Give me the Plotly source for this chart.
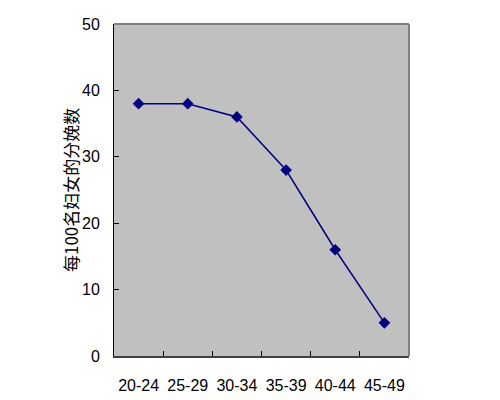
import plotly.graph_objs as go

# age groups and births per 100 women
age_groups = ["20-24", "25-29", "30-34", "35-39", "40-44", "45-49"]
births = [38, 38, 36, 28, 16, 5]
y_ticks = [0, 10, 20, 30, 40, 50]
y_label = "每100名妇女的分娩数"

narrow = "Liberation Sans Narrow, Arial Narrow, Liberation Sans, sans-serif"

fig = go.Figure()
fig.add_trace(go.Scatter(
    x=age_groups,
    y=births,
    mode="lines+markers",
    line=dict(color="#000080", width=1.5),
    marker=dict(symbol="diamond", size=9, color="#000080"),
    showlegend=False,
))

# page body adds an 8px offset, so margins are shifted to compensate
fig.update_layout(
    width=500,
    height=400,
    margin=dict(l=106, r=99, t=16, b=52, autoexpand=False),
    paper_bgcolor="white",
    plot_bgcolor="#C0C0C0",
    font=dict(family=narrow, size=16, color="black"),
    xaxis=dict(
        type="category",
        range=[-0.5, 5.5],
        tickson="boundaries",
        ticks="inside",
        ticklen=5,
        tickcolor="black",
        tickangle=0,
        automargin=False,
        showline=True,
        linecolor="#404040",
        linewidth=2,
        showgrid=False,
        ticklabelstandoff=14,
    ),
    yaxis=dict(
        range=[0, 50],
        tickvals=y_ticks,
        ticks="inside",
        ticklen=5,
        tickcolor="black",
        automargin=False,
        showline=True,
        linecolor="black",
        linewidth=1,
        showgrid=False,
        zeroline=False,
        ticklabelstandoff=10,
    ),
)

fig.add_annotation(
    text=y_label, textangle=-90,
    xref="paper", yref="paper", x=0, y=0.5,
    xanchor="center", yanchor="middle", xshift=-44, showarrow=False,
    font=dict(family="Noto Sans CJK SC", size=17, color="black"),
)

# grey frame along top and right of the plot area
fig.add_shape(type="line", xref="paper", yref="paper", x0=0, x1=1, y0=1, y1=1,
              line=dict(color="#808080", width=2))
fig.add_shape(type="line", xref="paper", yref="paper", x0=1, x1=1, y0=0, y1=1,
              line=dict(color="#808080", width=2))

fig.write_html("out.html")
